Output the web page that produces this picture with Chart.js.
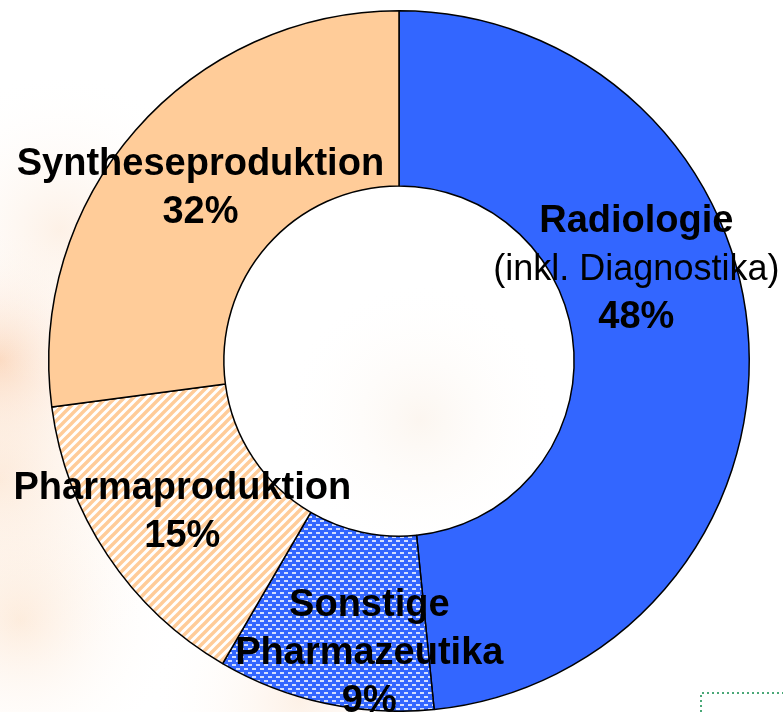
<!DOCTYPE html>
<html>
<head>
<meta charset="utf-8">
<script src="https://cdn.jsdelivr.net/npm/chart.js@4"></script>
<style>
  html, body { margin: 0; padding: 0; background: #fff; }
  #wrap { width: 783px; height: 712px; position: relative; }
</style>
</head>
<body>
<div id="wrap"><canvas id="c" width="783" height="712"></canvas></div>
<script>
// slice sizes as measured from the ring (printed labels are rounded)
const categories = ['Radiologie', 'Sonstige Pharmazeutika', 'Pharmaproduktion', 'Syntheseproduktion'];
const shares = [48.4, 10.0, 14.5, 27.1];
const pctLabels = ['48%', '9%', '15%', '32%'];
const labelLines = [
  ['Radiologie', '(inkl. Diagnostika)', '48%'],
  ['Sonstige', 'Pharmazeutika', '9%'],
  ['Pharmaproduktion', '15%'],
  ['Syntheseproduktion', '32%']
];

const FONT = '"Liberation Sans", Arial, sans-serif';
const BLUE = '#3366FF';
const PEACH = '#FFCC99';

function stripePattern() {
  const s = 9;
  const c = document.createElement('canvas');
  c.width = s; c.height = s;
  const g = c.getContext('2d');
  g.fillStyle = '#fff';
  g.fillRect(0, 0, s, s);
  g.strokeStyle = PEACH;
  g.lineWidth = 3.4;
  g.beginPath();
  g.moveTo(-s, 2 * s); g.lineTo(2 * s, -s);   // x + y = s
  g.moveTo(-s, s); g.lineTo(s, -s);           // x + y = 0
  g.moveTo(0, 2 * s); g.lineTo(2 * s, 0);     // x + y = 2s
  g.stroke();
  return g.createPattern(c, 'repeat');
}

function dotPattern() {
  const c = document.createElement('canvas');
  c.width = 8; c.height = 8;
  const g = c.getContext('2d');
  g.fillStyle = BLUE;
  g.fillRect(0, 0, 8, 8);
  g.fillStyle = '#D4DEFF';
  g.fillRect(0, 0, 4, 2);
  g.fillRect(4, 4, 4, 2);
  return g.createPattern(c, 'repeat');
}

// faint warm backdrop behind the ring
const backdrop = {
  id: 'backdrop',
  beforeDraw(chart) {
    const g = chart.ctx;
    g.save();
    g.fillStyle = '#fff';
    g.fillRect(0, 0, chart.width, chart.height);
    const blobs = [
      [0, 360, 130, 'rgba(248,180,130,0.55)'],
      [0, 480, 200, 'rgba(250,210,175,0.45)'],
      [20, 620, 160, 'rgba(250,205,165,0.35)'],
      [60, 230, 160, 'rgba(250,215,185,0.35)'],
      [300, 700, 150, 'rgba(250,215,185,0.35)'],
      [420, 420, 140, 'rgba(245,225,205,0.30)']
    ];
    for (const [x, y, r, col] of blobs) {
      const grd = g.createRadialGradient(x, y, 0, x, y, r);
      grd.addColorStop(0, col);
      grd.addColorStop(1, 'rgba(255,255,255,0)');
      g.fillStyle = grd;
      g.fillRect(0, 0, chart.width, chart.height);
    }
    g.restore();
  },
  afterDraw(chart) {
    const g = chart.ctx;
    g.save();
    g.strokeStyle = '#4aa878';
    g.lineWidth = 2;
    g.setLineDash([2, 3]);
    g.beginPath();
    g.moveTo(701, 712);
    g.lineTo(701, 693);
    g.lineTo(783, 693);
    g.stroke();
    g.restore();
  }
};

// nudges from the arc centroid to where each label block sits
const nudge = [[-25, -78], [26, 36], [2, 6], [-1, 1]];

const sliceLabels = {
  id: 'sliceLabels',
  afterDatasetsDraw(chart) {
    const g = chart.ctx;
    const arcs = chart.getDatasetMeta(0).data;
    g.save();
    g.textAlign = 'center';
    g.textBaseline = 'middle';
    g.fillStyle = '#000';
    arcs.forEach((arc, i) => {
      const p = arc.tooltipPosition();
      const lines = labelLines[i];
      const lh = 48;
      const cx = p.x + nudge[i][0];
      const cy = p.y + nudge[i][1] - (lines.length - 1) * lh / 2;
      lines.forEach((t, k) => {
        const plain = t.startsWith('(');
        g.font = (plain ? '' : 'bold ') + (plain ? 36 : 38) + 'px ' + FONT;
        g.fillText(t, cx, cy + k * lh);
      });
    });
    g.restore();
  }
};

new Chart(document.getElementById('c'), {
  type: 'doughnut',
  data: {
    labels: categories,
    datasets: [{
      data: shares,
      backgroundColor: [BLUE, dotPattern(), stripePattern(), PEACH],
      borderColor: '#000',
      borderWidth: 1.5
    }]
  },
  options: {
    responsive: false,
    animation: false,
    cutout: '50%',
    layout: { padding: { left: 48, right: 33, top: 10, bottom: 0 } },
    plugins: {
      legend: { display: false },
      tooltip: { enabled: false }
    }
  },
  plugins: [backdrop, sliceLabels]
});
</script>
</body>
</html>
